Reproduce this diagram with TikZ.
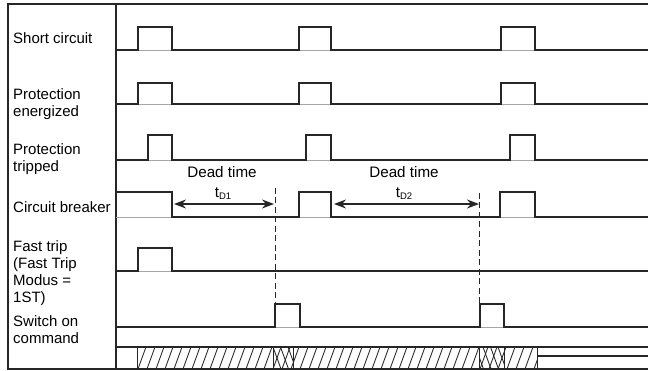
\documentclass[tikz,border=0pt]{standalone}
\usepackage{fontspec}
\setmainfont{Liberation Sans}
\usetikzlibrary{arrows.meta}
\begin{document}
\begin{tikzpicture}[x=1pt,y=-1pt,
  frameline/.style={line width=1.2pt, black!85},
  sig/.style={line width=1.9pt, black!85, line join=miter},
  baseln/.style={line width=0.6pt, black!35},
  lbl/.style={anchor=north west, inner sep=0pt, align=left, font=\fontsize{15}{17}\selectfont},
  dtxt/.style={anchor=north, inner sep=0pt, font=\fontsize{15.2}{17}\selectfont},
  dim/.style={line width=1.3pt, black!85, {Stealth[length=12pt,width=9pt]}-{Stealth[length=12pt,width=9pt]}},
  dashln/.style={line width=1pt, black!85, dash pattern=on 6pt off 3.5pt},
  hatch/.style={line width=0.85pt, black!85}]
\useasboundingbox (0,0) rectangle (648,371);
\fill[white] (0,0) rectangle (648,371);

% frame
\draw[frameline] (648,4) -- (8,4) -- (8,369) -- (648,369);
\draw[frameline] (116,4) -- (116,369);
\draw[frameline] (116,347) -- (648,347);
\draw[frameline] (537,356) -- (648,356);

% labels
\node[lbl] (lsc) at (13,32.5) {Short circuit};
\node[lbl] (lpe) at (13,88) {Protection\\energized};
\node[lbl] (lpt) at (13,143) {Protection\\tripped};
\node[lbl] (lcb) at (13,201) {Circuit breaker};
\node[lbl] (lft) at (13,240.5) {Fast trip\\(Fast Trip\\Modus =\\1ST)};
\node[lbl] (lso) at (13,315) {Switch on\\command};

% thin baselines under pulses
\foreach \y in {50,104,160,217,271,327} \draw[baseln] (116,\y) -- (648,\y);

% signals
\draw[sig] (116,50) -- (138,50) -- (138,27) -- (172,27) -- (172,50) -- (299,50) -- (299,27) -- (331,27) -- (331,50) -- (501,50) -- (501,27) -- (535,27) -- (535,50) -- (648,50);
\draw[sig] (116,104) -- (138,104) -- (138,83) -- (172,83) -- (172,104) -- (299,104) -- (299,83) -- (331,83) -- (331,104) -- (501,104) -- (501,83) -- (535,83) -- (535,104) -- (648,104);
\draw[sig] (116,160) -- (148,160) -- (148,135) -- (172,135) -- (172,160) -- (306,160) -- (306,135) -- (331,135) -- (331,160) -- (510,160) -- (510,135) -- (535,135) -- (535,160) -- (648,160);
\draw[sig] (116,192) -- (172,192) -- (172,217) -- (299,217) -- (299,192) -- (331,192) -- (331,217) -- (500,217) -- (500,192) -- (535,192) -- (535,217) -- (648,217);
\draw[sig] (116,271) -- (138,271) -- (138,248) -- (172,248) -- (172,271) -- (648,271);
\draw[sig] (116,327) -- (275,327) -- (275,304) -- (300,304) -- (300,327) -- (480,327) -- (480,304) -- (504,304) -- (504,327) -- (648,327);

% dead times
\node[dtxt] (dt1) at (222,166) {Dead time};
\node[dtxt] (dt2) at (404,166) {Dead time};
\node[dtxt] (td1) at (223,187) {t\raisebox{-0.35ex}{\fontsize{9.5}{9.5}\selectfont D1}};
\node[dtxt] (td2) at (404,187) {t\raisebox{-0.35ex}{\fontsize{9.5}{9.5}\selectfont D2}};
\coordinate (a1s) at (174,204);
\coordinate (a1e) at (274,204);
\coordinate (a2s) at (334,204);
\coordinate (a2e) at (479,204);
\draw[dim] (a1s) -- (a1e);
\draw[dim] (a2s) -- (a2e);
\coordinate (d1t) at (275,188);
\coordinate (d1b) at (275,304);
\coordinate (d2t) at (479,193);
\coordinate (d2b) at (479,304);
\draw[dashln] (d1t) -- (d1b);
\draw[dashln] (d2t) -- (d2b);

% hatched band
\begin{scope}
\clip (137,347) rectangle (537,369);
\foreach \x in {120,129,...,545} \draw[hatch] (\x,369) -- (\x+8,347);
\end{scope}
\begin{scope}
\clip (273,347) rectangle (293,369) (479,347) rectangle (504,369);
\foreach \x in {258,265.5,...,520} \draw[hatch] (\x,347) -- (\x+8,369);
\end{scope}
\foreach \x in {137,273,293,479,504,537} \draw[hatch] (\x,347) -- (\x,369);
\end{tikzpicture}
\end{document}
